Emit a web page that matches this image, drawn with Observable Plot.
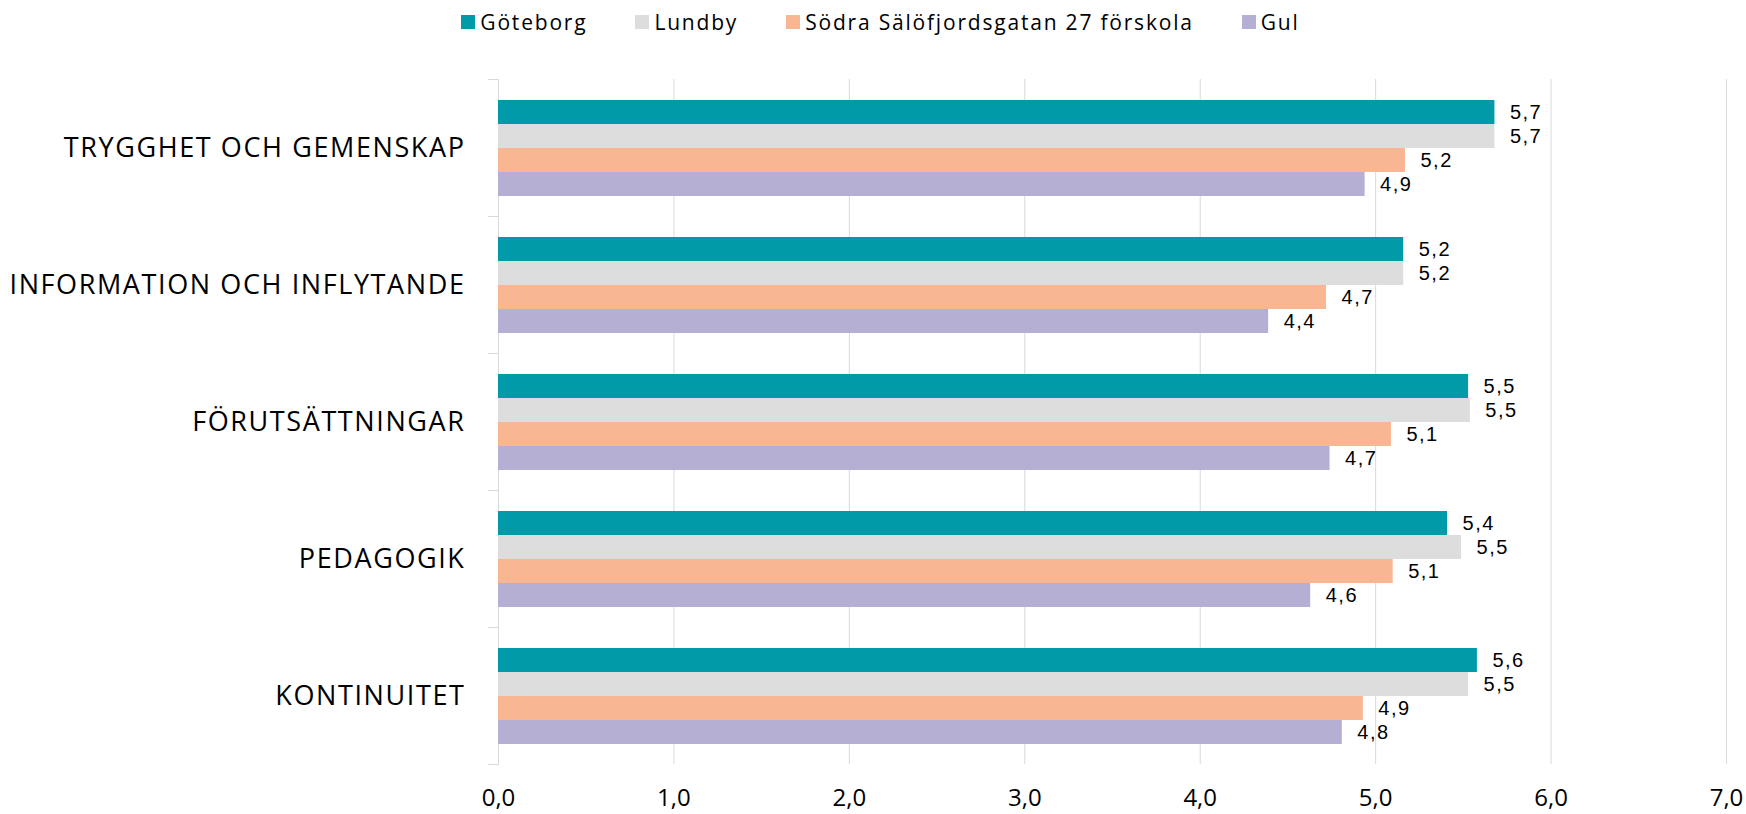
<!DOCTYPE html>
<html>
<head>
<meta charset="utf-8">
<script src="https://cdn.jsdelivr.net/npm/d3@7"></script>
<script src="https://cdn.jsdelivr.net/npm/@observablehq/plot@0.6"></script>
<style>
  html, body { margin: 0; padding: 0; background: #fff; }
  #legend { height: 44px; display: flex; align-items: center; justify-content: center; gap: 48px;
    font-family: "Open Sans", sans-serif; font-size: 21px; letter-spacing: 1.8px; color: #000; padding-left: 15px; box-sizing: border-box; }
  .item { display: flex; align-items: center; }
  .sw { width: 14px; height: 14px; margin-right: 5px; }
  g[aria-label="fy-axis tick label"] text { letter-spacing: 1.6px; }
  g[aria-label="text"] text { letter-spacing: 1.5px; }
</style>
</head>
<body>
<div id="legend"></div>
<div id="chart"></div>
<script>
const categories = ["TRYGGHET OCH GEMENSKAP", "INFORMATION OCH INFLYTANDE", "FÖRUTSÄTTNINGAR", "PEDAGOGIK", "KONTINUITET"];
const series = ["Göteborg", "Lundby", "Södra Sälöfjordsgatan 27 förskola", "Gul"];
const goteborg = [5.68, 5.16, 5.53, 5.41, 5.58];
const lundby   = [5.68, 5.16, 5.54, 5.49, 5.53];
const sodra    = [5.17, 4.72, 5.09, 5.10, 4.93];
const gul      = [4.94, 4.39, 4.74, 4.63, 4.81];
const colors = ["#009AA9", "#DDDDDD", "#F8B692", "#B5AFD4"];
const xTicks = [0, 1, 2, 3, 4, 5, 6, 7];

const valueSets = [goteborg, lundby, sodra, gul];
const data = [];
categories.forEach((c, i) => series.forEach((s, j) => data.push({category: c, series: s, value: valueSets[j][i]})));

const fmt = v => d3.format(".1f")(v).replace(".", ",");

const legend = document.getElementById("legend");
series.forEach((s, j) => {
  const it = document.createElement("div");
  it.className = "item";
  it.innerHTML = `<span class="sw" style="background:${colors[j]}"></span><span>${s}</span>`;
  legend.appendChild(it);
});

const width = 1746, marginLeft = 498, marginRight = 20;
const plotWidth = width - marginLeft - marginRight;

const chart = Plot.plot({
  width,
  height: 770,
  marginTop: 33,
  marginBottom: 48,
  marginLeft,
  marginRight,
  style: {fontFamily: "'Open Sans', sans-serif", color: "#000", background: "#fff", overflow: "visible"},
  x: {domain: [0, 7], axis: null},
  y: {domain: series, paddingInner: 0, paddingOuter: 0.76, axis: null},
  fy: {domain: categories, padding: 0, axis: null},
  color: {domain: series, range: colors},
  marks: [
    Plot.gridX({ticks: xTicks.slice(1), stroke: "#d9d9d9", strokeOpacity: 1}),
    Plot.ruleX([0], {stroke: "#d9d9d9"}),
    Plot.frame({anchor: "top", stroke: "#d9d9d9", insetLeft: -10, insetRight: plotWidth}),
    Plot.frame({anchor: "bottom", stroke: "#d9d9d9", insetLeft: -10, insetRight: plotWidth}),
    Plot.barX(data, {x: "value", y: "series", fy: "category", fill: "series"}),
    Plot.text(data, {x: "value", y: "series", fy: "category", text: d => fmt(d.value), dx: 15, textAnchor: "start",
      fontSize: 20, fontFamily: "'Liberation Sans', Arial, sans-serif", fill: "#000"}),
    Plot.axisFy({anchor: "left", tickSize: 0, tickPadding: 33, label: null, fontSize: 27, fill: "#000"}),
    Plot.axisX({anchor: "bottom", ticks: xTicks, tickFormat: fmt, tickSize: 0, tickPadding: 24, fontSize: 24, label: null, fill: "#000"})
  ]
});
document.getElementById("chart").appendChild(chart);
</script>
</body>
</html>
